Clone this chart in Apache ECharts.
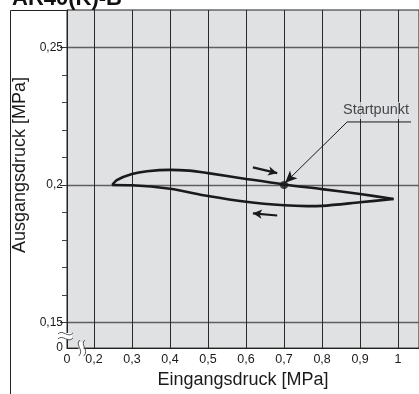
<!DOCTYPE html>
<html>
<head>
<meta charset="utf-8">
<script src="https://cdn.jsdelivr.net/npm/echarts@6/dist/echarts.min.js"></script>
<style>
  html, body { margin: 0; padding: 0; background: #fff; }
  #chart { width: 419px; height: 394px; }
</style>
</head>
<body>
<div id="chart"></div>
<script>
// broken axes: the left / bottom edge is labelled "0"
var xBreakMin = 0.129;
var xMax = 1.055;
var yBreakMin = 0.1407;
var yMax = 0.2636;
var xTicks = [0.2, 0.3, 0.4, 0.5, 0.6, 0.7, 0.8, 0.9, 1.0];
var yTicks = [0.15, 0.2, 0.25];
var yMinorTicks = [0.16, 0.17, 0.18, 0.19, 0.21, 0.22, 0.23, 0.24];

// hysteresis loop
var upperX = [0.248, 0.26, 0.30, 0.34, 0.40, 0.45, 0.50, 0.60, 0.70, 0.80, 0.90, 0.988];
var upperY = [0.2000, 0.2018, 0.2040, 0.2050, 0.2055, 0.2052, 0.2043, 0.2022, 0.2002, 0.1985, 0.1967, 0.1949];
var lowerX = [0.248, 0.30, 0.40, 0.50, 0.60, 0.70, 0.76, 0.80, 0.90, 0.988];
var lowerY = [0.2000, 0.1999, 0.1986, 0.1960, 0.1939, 0.1926, 0.1923, 0.1924, 0.1937, 0.1949];

var startPoint = [0.7, 0.2];
var startLabel = 'Startpunkt';
var startLabelPos = [0.942, 0.2271];
var leaderLine = [[0.866, 0.2229], [0.703, 0.2008]];
var underline = [[0.866, 0.2229], [1.034, 0.2229]];
var arrowUpper = [[0.618, 0.2064], [0.682, 0.2043]];
var arrowLower = [[0.682, 0.1889], [0.618, 0.1897]];

function zip(xs, ys) {
  return xs.map(function (x, i) { return [x, ys[i]]; });
}
function fmt(v, breakVal) {
  if (v < breakVal) return '0';
  return String(+v.toFixed(2)).replace('.', ',');
}

var font = 'Liberation Sans, Arial, sans-serif';
var ink = '#1a1a1a';

var option = {
  animation: false,
  textStyle: { fontFamily: font },
  grid: {
    left: 67, top: 10, right: 0, bottom: 40,
    show: true,
    backgroundColor: '#e0e1e3',
    borderColor: '#222',
    borderWidth: 1
  },
  xAxis: {
    type: 'value',
    min: xBreakMin,
    max: xMax,
    name: 'Eingangsdruck [MPa]',
    nameLocation: 'middle',
    nameGap: 20,
    nameTextStyle: { fontSize: 18, color: '#1a1a1a', fontFamily: font },
    axisLine: { show: true, lineStyle: { color: '#222', width: 1 } },
    axisTick: { show: false, customValues: xTicks },
    axisLabel: {
      customValues: [xBreakMin].concat(xTicks),
      margin: 5,
      fontSize: 12.5,
      color: '#1a1a1a',
      formatter: function (v) { return fmt(v, 0.15); }
    },
    splitLine: { show: true, lineStyle: { color: '#2a2a2a', width: 1 } }
  },
  yAxis: [
    {
      type: 'value',
      min: yBreakMin,
      max: yMax,
      position: 'left',
      name: 'Ausgangsdruck [MPa]',
      nameLocation: 'middle',
      nameGap: 30,
      nameTextStyle: { fontSize: 18, color: '#1a1a1a', fontFamily: font, padding: [0, 0, 0, 28] },
      axisLine: { show: true, lineStyle: { color: '#222', width: 1 } },
      axisTick: { show: true, customValues: yTicks, length: 7, lineStyle: { color: '#333' } },
      axisLabel: {
        customValues: [yBreakMin].concat(yTicks),
        margin: 4,
        fontSize: 12,
        color: '#1a1a1a',
        formatter: function (v) { return fmt(v, 0.145); }
      },
      splitLine: { show: true, lineStyle: { color: '#5f5f5f', width: 1.3 } }
    },
    {
      type: 'value',
      min: yBreakMin,
      max: yMax,
      position: 'left',
      offset: 0,
      axisLine: { show: false },
      axisTick: { show: true, customValues: yMinorTicks, length: 5, lineStyle: { color: '#444' } },
      axisLabel: { show: false },
      splitLine: { show: false }
    }
  ],
  series: [
    {
      name: 'upper',
      type: 'line',
      smooth: 0.3,
      symbol: 'none',
      lineStyle: { color: ink, width: 2.6 },
      data: zip(upperX, upperY),
      z: 5
    },
    {
      name: 'lower',
      type: 'line',
      smooth: 0.3,
      symbol: 'none',
      lineStyle: { color: ink, width: 2.6 },
      data: zip(lowerX, lowerY),
      z: 5
    },
    {
      name: 'start',
      type: 'scatter',
      symbol: 'circle',
      symbolSize: 8,
      itemStyle: { color: ink },
      data: [startPoint],
      z: 6,
      markLine: {
        silent: true,
        symbol: ['none', 'arrow'],
        symbolSize: [7, 9],
        label: { show: false },
        lineStyle: { color: ink, width: 2.2, type: 'solid' },
        data: [
          [{ coord: arrowUpper[0] }, { coord: arrowUpper[1] }],
          [{ coord: arrowLower[0] }, { coord: arrowLower[1] }]
        ]
      }
    },
    {
      name: 'leader',
      type: 'line',
      symbol: 'none',
      lineStyle: { color: ink, width: 1 },
      data: underline,
      z: 4,
      markLine: {
        silent: true,
        symbol: ['none', 'arrow'],
        symbolSize: [8, 12],
        label: { show: false },
        lineStyle: { color: ink, width: 1, type: 'solid' },
        data: [
          [{ coord: leaderLine[0] }, { coord: leaderLine[1] }]
        ]
      }
    },
    {
      name: 'label',
      type: 'scatter',
      symbolSize: 0,
      data: [startLabelPos],
      z: 7,
      label: {
        show: true,
        position: 'inside',
        formatter: startLabel,
        fontSize: 14.5,
        fontFamily: font,
        color: '#1a1a1a',
        backgroundColor: '#e0e1e3',
        padding: [1, 2]
      }
    }
  ]
};

var chart = echarts.init(document.getElementById('chart'));
chart.setOption(option);

// decorations: outer frame, title (cut off at the top) and axis-break marks
var o = chart.convertToPixel({ gridIndex: 0 }, [xBreakMin, yBreakMin]);
var yb = chart.convertToPixel({ gridIndex: 0 }, [xBreakMin, 0.1455]);
var xb = chart.convertToPixel({ gridIndex: 0 }, [0.165, yBreakMin]);
var wave = '#555';
chart.setOption({
  graphic: [
    { type: 'line', shape: { x1: 10.5, y1: 10.5, x2: 10.5, y2: 394 }, style: { stroke: '#222', lineWidth: 1 } },
    { type: 'line', shape: { x1: 10.5, y1: 10.5, x2: o[0], y2: 10.5 }, style: { stroke: '#222', lineWidth: 1 } },
    {
      type: 'text', x: 12, y: -1,
      style: { text: 'AR40(K)-B', fontSize: 22, fontWeight: 'bold', fontFamily: font, fill: '#111', verticalAlign: 'middle' }
    },
    // y-axis break
    { type: 'rect', shape: { x: o[0] - 3, y: yb[1] - 2, width: 8, height: 6 }, style: { fill: '#fff' }, z: 100 },
    { type: 'bezierCurve', shape: { x1: o[0] - 9, y1: yb[1] - 1, cpx1: o[0] - 4, cpy1: yb[1] - 6, cpx2: o[0] + 1, cpy2: yb[1] + 4, x2: o[0] + 6, y2: yb[1] - 2 }, style: { stroke: wave, fill: null, lineWidth: 1 }, z: 101 },
    { type: 'bezierCurve', shape: { x1: o[0] - 9, y1: yb[1] + 4, cpx1: o[0] - 4, cpy1: yb[1] - 1, cpx2: o[0] + 1, cpy2: yb[1] + 9, x2: o[0] + 6, y2: yb[1] + 3 }, style: { stroke: wave, fill: null, lineWidth: 1 }, z: 101 },
    // x-axis break
    { type: 'rect', shape: { x: xb[0] - 2, y: o[1] - 6, width: 5, height: 10 }, style: { fill: '#fff' }, z: 100 },
    { type: 'bezierCurve', shape: { x1: xb[0] - 1, y1: o[1] - 8, cpx1: xb[0] - 6, cpy1: o[1] - 3, cpx2: xb[0] + 4, cpy2: o[1] + 2, x2: xb[0] - 2, y2: o[1] + 8 }, style: { stroke: wave, fill: null, lineWidth: 1 }, z: 101 },
    { type: 'bezierCurve', shape: { x1: xb[0] + 4, y1: o[1] - 8, cpx1: xb[0] - 1, cpy1: o[1] - 3, cpx2: xb[0] + 9, cpy2: o[1] + 2, x2: xb[0] + 3, y2: o[1] + 8 }, style: { stroke: wave, fill: null, lineWidth: 1 }, z: 101 }
  ]
});
</script>
</body>
</html>
